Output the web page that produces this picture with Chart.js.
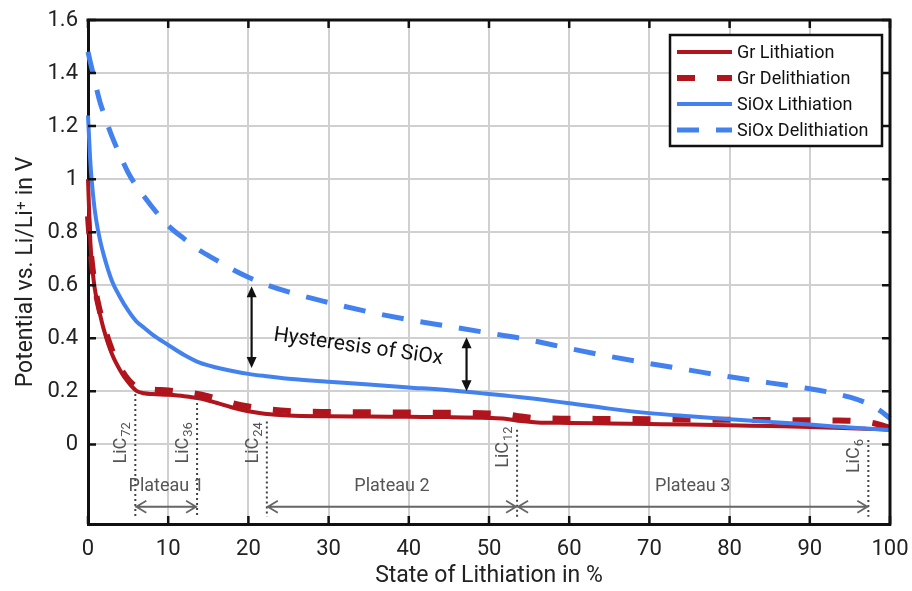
<!DOCTYPE html>
<html><head><meta charset="utf-8">
<script src="https://cdn.jsdelivr.net/npm/chart.js@4"></script>
<style>html,body{margin:0;padding:0;background:#fff}#wrap{width:912px;height:591px;position:relative}</style>
</head><body><div id="wrap"><canvas id="c"></canvas></div>
<script>
// ---- data ----
const soc = [0, 0.3, 0.7, 1, 1.5, 2, 3, 4, 5, 6, 7, 8, 10, 12, 14, 16, 18, 20, 22, 25, 30, 35, 40, 45, 50, 52, 54, 56, 60, 65, 70, 75, 80, 85, 90, 93, 95, 97, 98, 99, 100];
const grLithiation = [1.0,0.76,0.62,0.56,0.49,0.43,0.34,0.28,0.235,0.203,0.193,0.19,0.187,0.182,0.173,0.157,0.139,0.125,0.116,0.109,0.106,0.105,0.104,0.103,0.1,0.097,0.088,0.083,0.081,0.079,0.077,0.075,0.072,0.069,0.066,0.063,0.061,0.059,0.058,0.057,0.055];
const grDelithiation = [0.86,0.74,0.63,0.57,0.5,0.445,0.355,0.29,0.245,0.218,0.21,0.207,0.203,0.197,0.188,0.173,0.156,0.143,0.134,0.126,0.122,0.121,0.12,0.119,0.117,0.114,0.105,0.099,0.097,0.096,0.095,0.094,0.093,0.092,0.091,0.09,0.089,0.085,0.08,0.072,0.062];
const siOxLithiation = [1.24,1.06,0.92,0.85,0.77,0.71,0.615,0.555,0.505,0.465,0.44,0.415,0.375,0.337,0.307,0.29,0.277,0.266,0.258,0.248,0.236,0.226,0.215,0.204,0.19,0.184,0.178,0.171,0.155,0.135,0.118,0.106,0.095,0.085,0.075,0.068,0.064,0.06,0.058,0.056,0.054];
const siOxDelithiation = [1.48,1.44,1.39,1.35,1.29,1.245,1.16,1.09,1.025,0.975,0.935,0.895,0.825,0.775,0.73,0.695,0.66,0.63,0.605,0.575,0.535,0.5,0.47,0.445,0.42,0.41,0.4,0.388,0.362,0.332,0.305,0.28,0.255,0.232,0.21,0.193,0.178,0.157,0.142,0.122,0.098];
const seriesNames = ['Gr Lithiation', 'Gr Delithiation', 'SiOx Lithiation', 'SiOx Delithiation'];
const xTicks = [0, 10, 20, 30, 40, 50, 60, 70, 80, 90, 100];
const yTicks = [0, 0.2, 0.4, 0.6, 0.8, 1, 1.2, 1.4, 1.6];
// staging annotations
const licPhases = ['72', '36', '24', '12', '6'];
const licSoc = [5.9, 13.6, 22.3, 53.5, 97.3];
const licLineTop = [0.19, 0.175, 0.086, 0.055, 0.017];
const licLabelBottom = [-0.072, -0.072, -0.072, -0.088, -0.108];
const plateauNames = ['Plateau 1', 'Plateau 2', 'Plateau 3'];
const plateauFrom = [0, 2, 3];
const plateauTo = [1, 3, 4];
const hysteresisSoc = [20.4, 47.2];
const hysteresisTop = [0.596, 0.404];
const hysteresisBottom = [0.288, 0.2];
const hysteresisLabel = 'Hysteresis of SiOx';

// ---- styling ----
const FONT = "'Roboto', 'Liberation Sans', sans-serif";
const RED = '#B0141C', BLUE = '#4382EE';
const toXY = ys => soc.map((s, i) => ({x: s, y: ys[i]}));

const overlay = {
  id: 'overlay',
  afterDatasetsDraw(chart) {
    const {ctx, chartArea: a, scales: {x, y}} = chart;
    const X = v => x.getPixelForValue(v), Y = v => y.getPixelForValue(v);
    ctx.save();
    // frame (top/right) and inward ticks
    ctx.strokeStyle = '#111'; ctx.lineWidth = 3; ctx.lineCap = 'square';
    ctx.beginPath(); ctx.moveTo(a.left, a.top); ctx.lineTo(a.right, a.top); ctx.lineTo(a.right, a.bottom); ctx.stroke();
    ctx.lineWidth = 2.5; ctx.lineCap = 'butt';
    ctx.beginPath();
    xTicks.forEach(v => { const p = X(v); ctx.moveTo(p, a.bottom); ctx.lineTo(p, a.bottom - 8); ctx.moveTo(p, a.top); ctx.lineTo(p, a.top + 8); });
    yTicks.forEach(v => { const p = Y(v); ctx.moveTo(a.left, p); ctx.lineTo(a.left + 8, p); ctx.moveTo(a.right, p); ctx.lineTo(a.right - 8, p); });
    ctx.stroke();

    // dotted stage lines
    ctx.strokeStyle = '#444'; ctx.lineWidth = 2; ctx.setLineDash([2, 3]);
    licSoc.forEach((s, i) => { ctx.beginPath(); ctx.moveTo(X(s), Y(licLineTop[i])); ctx.lineTo(X(s), Y(-0.273)); ctx.stroke(); });
    ctx.setLineDash([]);

    // LiC labels
    ctx.fillStyle = '#555';
    licSoc.forEach((s, i) => {
      ctx.save();
      ctx.translate(X(s) - 9, Y(licLabelBottom[i]));
      ctx.rotate(-Math.PI / 2);
      ctx.textAlign = 'left'; ctx.textBaseline = 'alphabetic';
      ctx.font = '18px ' + FONT;
      ctx.fillText('LiC', 0, 0);
      const w = ctx.measureText('LiC').width;
      ctx.font = '13px ' + FONT;
      ctx.fillText(licPhases[i], w + 1, 4);
      ctx.restore();
    });

    // plateau arrows
    const ay = Y(-0.235);
    ctx.strokeStyle = '#666'; ctx.lineWidth = 1.8;
    plateauFrom.forEach((f, i) => {
      const x1 = X(licSoc[f]), x2 = X(licSoc[plateauTo[i]]);
      ctx.beginPath();
      ctx.moveTo(x1, ay); ctx.lineTo(x2, ay);
      ctx.moveTo(x1 + 11, ay - 6); ctx.lineTo(x1 + 1, ay); ctx.lineTo(x1 + 11, ay + 6);
      ctx.moveTo(x2 - 11, ay - 6); ctx.lineTo(x2 - 1, ay); ctx.lineTo(x2 - 11, ay + 6);
      ctx.stroke();
      ctx.fillStyle = '#555'; ctx.font = '18px ' + FONT; ctx.textAlign = 'center'; ctx.textBaseline = 'middle';
      ctx.fillText(plateauNames[i], (x1 + x2) / 2, Y(-0.16));
    });

    // hysteresis arrows
    ctx.strokeStyle = '#111'; ctx.fillStyle = '#111'; ctx.lineWidth = 2.2;
    hysteresisSoc.forEach((s, i) => {
      const px = X(s), t = Y(hysteresisTop[i]), b = Y(hysteresisBottom[i]);
      ctx.beginPath(); ctx.moveTo(px, t + 6); ctx.lineTo(px, b - 6); ctx.stroke();
      ctx.beginPath(); ctx.moveTo(px, t); ctx.lineTo(px - 5, t + 11); ctx.lineTo(px + 5, t + 11); ctx.closePath(); ctx.fill();
      ctx.beginPath(); ctx.moveTo(px, b); ctx.lineTo(px - 5, b - 11); ctx.lineTo(px + 5, b - 11); ctx.closePath(); ctx.fill();
    });
    ctx.save();
    ctx.translate(X(33.7), Y(0.367));
    ctx.rotate(8 * Math.PI / 180);
    ctx.font = '21px ' + FONT; ctx.textAlign = 'center'; ctx.textBaseline = 'middle'; ctx.fillStyle = '#111';
    ctx.fillText(hysteresisLabel, 0, 0);
    ctx.restore();
    ctx.restore();
  },
  afterDraw(chart) {
    const {ctx, chartArea: a} = chart;
    const lw = 212, lh = 111, lx = a.right - 8 - lw, ly = a.top + 15;
    ctx.save();
    ctx.fillStyle = '#fff'; ctx.fillRect(lx, ly, lw, lh);
    ctx.strokeStyle = '#111'; ctx.lineWidth = 2.5; ctx.strokeRect(lx, ly, lw, lh);
    chart.data.datasets.forEach((d, i) => {
      const yy = ly + 17 + i * 26;
      ctx.strokeStyle = d.borderColor; ctx.lineWidth = d.borderWidth;
      ctx.setLineDash(d.borderDash || []);
      ctx.beginPath(); ctx.moveTo(lx + 7, yy); ctx.lineTo(lx + 62, yy); ctx.stroke();
      ctx.setLineDash([]);
      ctx.fillStyle = '#111'; ctx.font = '18px ' + FONT; ctx.textAlign = 'left'; ctx.textBaseline = 'middle';
      ctx.fillText(d.label, lx + 67, yy + 1);
    });
    ctx.restore();
  }
};

new Chart(document.getElementById('c'), {
  type: 'line',
  data: {
    datasets: [
      {label: seriesNames[0], data: toXY(grLithiation), borderColor: RED, borderWidth: 4, order: 1},
      {label: seriesNames[1], data: toXY(grDelithiation), borderColor: RED, borderWidth: 6, borderDash: [18, 22], order: 2},
      {label: seriesNames[2], data: toXY(siOxLithiation), borderColor: BLUE, borderWidth: 4, order: 0},
      {label: seriesNames[3], data: toXY(siOxDelithiation), borderColor: BLUE, borderWidth: 5, borderDash: [22, 17], order: 3}
    ]
  },
  options: {
    responsive: true, maintainAspectRatio: false, animation: false,
    layout: {padding: {top: 20, right: 22, left: 0, bottom: 0}},
    elements: {point: {radius: 0}, line: {cubicInterpolationMode: 'monotone', fill: false, borderCapStyle: 'butt'}},
    datasets: {line: {clip: 8}},
    plugins: {legend: {display: false}, tooltip: {enabled: false}},
    scales: {
      x: {
        type: 'linear', min: 0, max: 100,
        afterBuildTicks: s => { s.ticks = xTicks.map(v => ({value: v})); },
        afterFit: s => { s.height = 67; s.paddingLeft = 0; s.paddingRight = 0; },
        grid: {color: '#d0d0d0', lineWidth: 2, drawTicks: false},
        border: {display: true, color: '#111', width: 3},
        ticks: {padding: 12, color: '#222', font: {family: FONT, size: 22}, maxRotation: 0, callback: v => String(v)},
        title: {display: true, text: 'State of Lithiation in %', color: '#222', font: {family: FONT, size: 23}, padding: {top: 0, bottom: 1}}
      },
      y: {
        type: 'linear', min: -0.3, max: 1.6,
        afterBuildTicks: s => { s.ticks = yTicks.map(v => ({value: v})); },
        afterFit: s => { s.width = 88; s.paddingTop = 0; s.paddingBottom = 0; },
        grid: {color: '#d0d0d0', lineWidth: 2, drawTicks: false},
        border: {display: true, color: '#111', width: 3},
        ticks: {padding: 10, color: '#222', font: {family: FONT, size: 22}, callback: v => String(Math.round(v * 10) / 10)},
        title: {display: true, text: 'Potential vs. Li/Li\u207A in V', color: '#222', font: {family: FONT, size: 23}, padding: {top: 12, bottom: 0}}
      }
    }
  },
  plugins: [overlay]
});
</script>
</body></html>
